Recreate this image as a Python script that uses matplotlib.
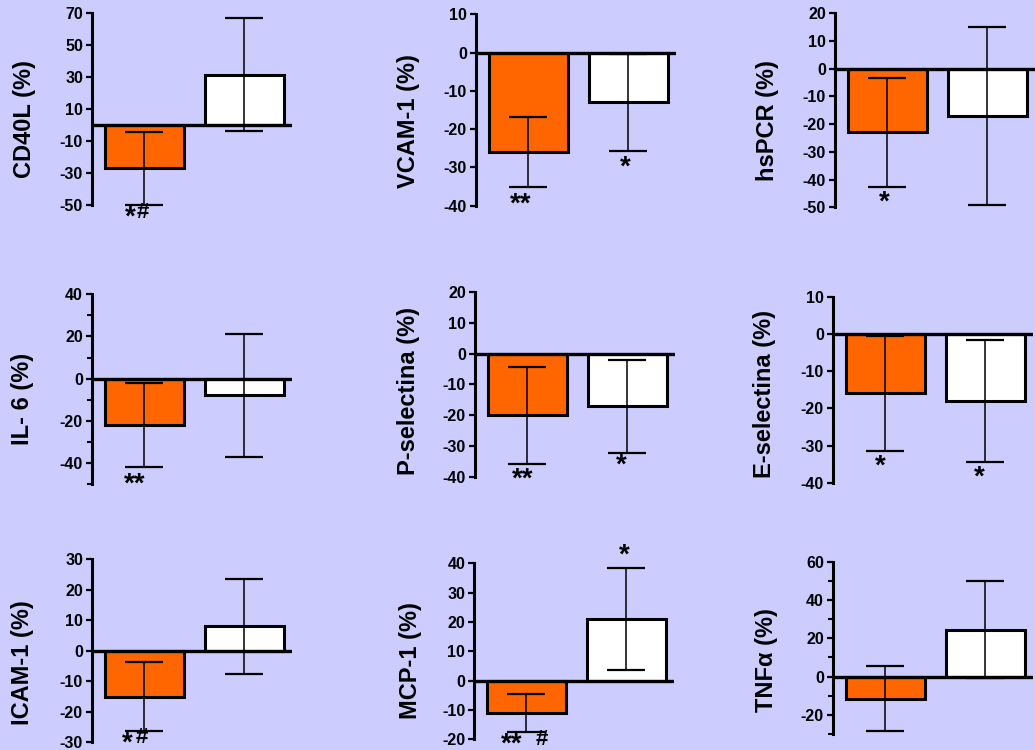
import matplotlib
matplotlib.use("Agg")
import matplotlib.pyplot as plt
from matplotlib.ticker import MultipleLocator

plt.rcParams['font.family'] = ['Liberation Sans', 'DejaVu Sans']

# ---------------- data ----------------
labels = ["CD40L (%)", "VCAM-1 (%)", "hsPCR (%)",
          "IL- 6 (%)", "P-selectina (%)", "E-selectina (%)",
          "ICAM-1 (%)", "MCP-1 (%)", "TNF\u03b1 (%)"]
orange_mean = [-27, -26, -23, -22, -20, -16, -15, -11, -11.5]
orange_sd = [22.8, 9.1, 19.5, 20, 15.7, 15.5, 11.4, 6.5, 17]
white_mean = [31.5, -13, -17, -8, -17, -18, 8, 21, 24.5]
white_sd = [35.5, 12.7, 32.2, 29, 15, 16.4, 15.5, 17.5, 25.3]
ylims = [(-50, 70), (-40, 10), (-50, 20), (-50, 40), (-40, 20),
         (-40, 10), (-30, 30), (-20, 40), (-30, 60)]
major_step = [20, 10, 10, 20, 10, 10, 10, 10, 20]
major_start = [-50, -40, -50, -40, -40, -40, -30, -20, -20]
minor_step = [None, None, None, 10, None, None, None, None, 10]

# annotations: (panel, text, x, y, fontsize)
annotations = [
    (0, "*", -0.14, -62.4, 20), (0, "#", -0.01, -58.3, 16),
    (1, "**", -0.075, -41.5, 20), (1, "*", 0.97, -32.0, 20),
    (2, "*", -0.027, -50.7, 20),
    (3, "**", -0.098, -53.7, 20),
    (4, "**", -0.04, -43.1, 20), (4, "*", 0.947, -38.4, 20),
    (5, "*", -0.05, -37.5, 20), (5, "*", 0.943, -40.6, 20),
    (6, "*", -0.17, -32.6, 20), (6, "#", -0.025, -30.3, 16),
    (7, "**", -0.146, -24.2, 20), (7, "#", 0.155, -22.0, 16),
    (7, "*", 0.977, 40.3, 20),
]

# ---------------- layout (pixels) ----------------
W, H = 1035, 750
BG = "#CCCCFF"
ORANGE = "#FF6600"
axes_px = [  # left spine x, top y, bottom y
    (92, 13, 205), (476, 14.3, 205.7), (835, 13.3, 207.3),
    (92, 294.3, 484), (475, 291.7, 477.3), (833, 296.7, 482.7),
    (92, 559.3, 742.3), (474.3, 563.3, 739.3), (833, 561.7, 734),
]
label_px = [(24, 119), (409, 121), (767.5, 121),
            (23, 399), (409, 391), (764, 394),
            (23, 663), (411, 661), (766, 660)]

fig = plt.figure(figsize=(W / 100, H / 100), dpi=100)
fig.patch.set_facecolor(BG)

axes = []
for i in range(9):
    S, top, bot = axes_px[i]
    ax = fig.add_axes([S / W, 1 - bot / H, 200 / W, (bot - top) / H])
    ax.set_facecolor(BG)
    ax.patch.set_alpha(0)
    for sp in ("top", "right", "bottom"):
        ax.spines[sp].set_visible(False)
    ax.spines["left"].set_linewidth(2.2)
    ax.set_xlim(-0.52, 1.48)
    ax.set_ylim(*ylims[i])
    ax.set_xticks([])
    lo, hi = ylims[i]
    ticks = list(range(major_start[i], hi + 1, major_step[i]))
    ax.set_yticks(ticks)
    ax.set_yticklabels([str(t) for t in ticks], fontsize=11.5, fontweight="bold")
    if minor_step[i]:
        ax.yaxis.set_minor_locator(MultipleLocator(minor_step[i]))
        ax.tick_params(axis="y", which="minor", direction="out", length=3.5, width=1.5)
    ax.tick_params(axis="y", which="major", direction="out", length=4, width=1.6, pad=2.5)

    ax.bar([0, 1], [orange_mean[i], white_mean[i]], width=0.79,
           color=[ORANGE, "white"], edgecolor="black", linewidth=2.2, zorder=2)
    ax.errorbar([0, 1], [orange_mean[i], white_mean[i]],
                yerr=[orange_sd[i], white_sd[i]], fmt="none", ecolor="black",
                elinewidth=1.1, capsize=14, capthick=1.6, zorder=4, clip_on=False)
    ax.axhline(0, color="black", lw=2.4, zorder=3, xmin=0.015 if i == 0 else 0)

    fig.text(label_px[i][0] / W, 1 - label_px[i][1] / H, labels[i], rotation=90,
             ha="center", va="center", fontsize=17, fontweight="bold")
    axes.append(ax)

for p, s, x, y, fs in annotations:
    axes[p].text(x, y, s, ha="center", va="baseline", fontsize=fs,
                 fontweight="bold", clip_on=False)

fig.savefig("out.png", dpi=100, facecolor=BG)
